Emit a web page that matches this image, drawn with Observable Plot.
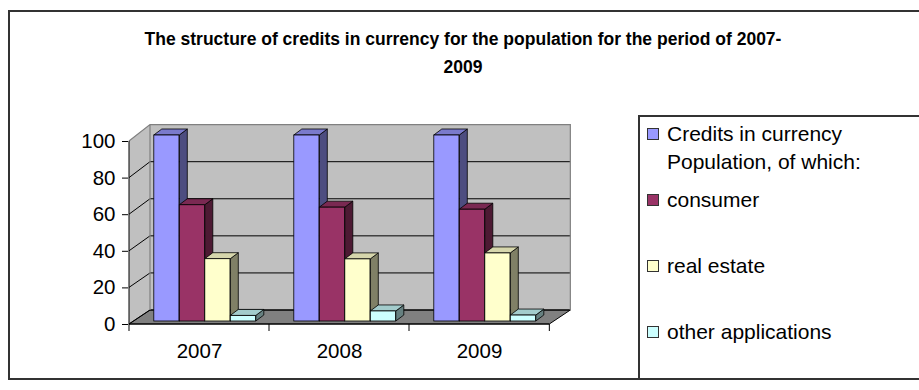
<!DOCTYPE html>
<html>
<head>
<meta charset="utf-8">
<script src="https://cdn.jsdelivr.net/npm/d3@7"></script>
<script src="https://cdn.jsdelivr.net/npm/@observablehq/plot@0.6"></script>
<style>
  html, body { margin: 0; padding: 0; background: #fff; }
  #wrap { position: relative; width: 919px; height: 390px; overflow: hidden; font-family: 'Liberation Sans', Arial, sans-serif; color: #000; }
  #frame { position: absolute; left: 8px; top: 10px; width: 940px; height: 370px; box-sizing: border-box; border: 2px solid #333; }
  #title { position: absolute; left: 8px; width: 910px; top: 25px; text-align: center; font-weight: bold; font-size: 17.5px; line-height: 28px; }
  #legend { position: absolute; left: 638px; top: 115px; width: 320px; height: 265px; box-sizing: border-box; border: 2px solid #333; }
  .lg-item { position: absolute; left: 667px; font-size: 21px; line-height: 28px; white-space: nowrap; }
  .lg-sw { position: absolute; left: 647px; width: 12px; height: 12px; box-sizing: border-box; border: 1px solid #333; }
  #chart { position: absolute; left: 0; top: 0; }
</style>
</head>
<body>
<div id="wrap">
  <div id="frame"></div>
  <div id="chart"></div>
  <div id="title">The structure of credits in currency for the population for the period of 2007-<br>2009</div>
  <div id="legend"></div>
</div>
<script>
// ---- data ----
const years = ["2007", "2008", "2009"];
const seriesNames = ["Credits in currency Population, of which:", "consumer", "real estate", "other applications"];
const seriesLegendLines = [["Credits in currency", "Population, of which:"], ["consumer"], ["real estate"], ["other applications"]];
const totalCredits = [100, 100, 100];
const consumer = [62.5, 61.2, 60.1];
const realEstate = [33.5, 33.4, 36.6];
const otherApps = [3.0, 5.4, 3.2];
const yTicks = [0, 20, 40, 60, 80, 100];

// ---- styles ----
const frontColors = ["#9999FF", "#993366", "#FFFFCC", "#CCFFFF"];
const topColors = ["#7A7ACC", "#7A2952", "#D6D6AC", "#A3CCCC"];
const sideColors = ["#4D4D80", "#4D1A33", "#808066", "#668080"];
const WALL = "#C0C0C0", FLOOR = "#808080", EDGE = "#808080";

const W = 919, H = 390, mL = 128, mR = 370, mT = 141, mB = 66;
const DX = 21, DY = -14, K = 0.013;        // wall depth
const BY = -3, KB = 0.0164;                // bar front plane
const BDX = 8, BDY = -6;                   // bar depth
const G0 = 24.8, BW = 25.5;                // bar placement within band
const bandW = (W - mL - mR) / years.length;

const seriesValues = [totalCredits, consumer, realEstate, otherApps];
const rows = [];
years.forEach((yr, j) => seriesValues.forEach((vals, s) => rows.push({year: yr, s, value: vals[j]})));

function wallsMark(index, scales) {
  const {x, y} = scales;
  const xa = x(years[0]), xb = x(years[years.length - 1]) + bandW;
  const y0 = y(0), vTop = yTicks[yTicks.length - 1];
  const yb = v => y(v) + DY - (y0 - y(v)) * K;
  const g = d3.create("svg:g");
  g.append("path").attr("d", `M${xa + DX},${yb(0)}L${xa + DX},${yb(vTop)}L${xb + DX},${yb(vTop)}L${xb + DX},${yb(0)}Z`).attr("fill", WALL);
  g.append("path").attr("d", `M${xa},${y0}L${xa},${y(vTop)}L${xa + DX},${yb(vTop)}L${xa + DX},${yb(0)}Z`).attr("fill", WALL);
  g.append("path").attr("d", `M${xa},${y0}L${xb},${y0}L${xb + DX},${yb(0)}L${xa + DX},${yb(0)}Z`).attr("fill", FLOOR).attr("stroke", "#000").attr("stroke-width", 1);
  yTicks.filter(t => t < vTop).forEach(t => {
    g.append("line").attr("x1", xa + DX).attr("x2", xb + DX).attr("y1", yb(t)).attr("y2", yb(t)).attr("stroke", "#000");
    g.append("line").attr("x1", xa).attr("x2", xa + DX).attr("y1", y(t)).attr("y2", yb(t)).attr("stroke", "#000");
  });
  g.append("path").attr("d", `M${xa},${y(vTop)}L${xa + DX},${yb(vTop)}L${xb + DX},${yb(vTop)}L${xb + DX},${yb(0)}M${xa + DX},${yb(vTop)}L${xa + DX},${yb(0)}`)
    .attr("fill", "none").attr("stroke", EDGE).attr("stroke-width", 1.2);
  g.append("line").attr("x1", xa).attr("x2", xa).attr("y1", y(vTop)).attr("y2", y0).attr("stroke", "#000");
  g.append("line").attr("x1", xa).attr("x2", xb).attr("y1", y0).attr("y2", y0).attr("stroke", "#000");
  years.forEach(yr => {
    const bx = x(yr);
    g.append("line").attr("x1", bx).attr("x2", bx).attr("y1", y0).attr("y2", y0 + 7).attr("stroke", "#000");
  });
  g.append("line").attr("x1", xb).attr("x2", xb).attr("y1", y0).attr("y2", y0 + 7).attr("stroke", "#000");
  return g.node();
}

function barFacesMark(index, scales) {
  const {x, y} = scales;
  const y0 = y(0);
  const yBar = v => y0 + BY - (y0 - y(v)) * (1 + KB);
  const g = d3.create("svg:g").attr("stroke", "#000").attr("stroke-width", 0.8).attr("stroke-linejoin", "round");
  for (const d of rows) {
    const x0 = x(d.year) + G0 + d.s * BW, x1 = x0 + BW;
    const yt = yBar(d.value), yB = yBar(0);
    g.append("path").attr("fill", sideColors[d.s])
      .attr("d", `M${x1},${yB}L${x1},${yt}L${x1 + BDX},${yt + BDY}L${x1 + BDX},${yB + BDY}Z`);
    g.append("path").attr("fill", topColors[d.s])
      .attr("d", `M${x0},${yt}L${x1},${yt}L${x1 + BDX},${yt + BDY}L${x0 + BDX},${yt + BDY}Z`);
  }
  return g.node();
}

const fronts = seriesNames.map((name, s) => Plot.barY(rows.filter(d => d.s === s), {
  x: "year", y: "value", fill: frontColors[s], stroke: "#000", strokeWidth: 0.8,
  insetLeft: G0 + s * BW, insetRight: bandW - G0 - (s + 1) * BW
}));

const chart = Plot.plot({
  width: W, height: H,
  marginLeft: mL, marginRight: mR, marginTop: mT, marginBottom: mB,
  style: {fontFamily: "'Liberation Sans', Arial, sans-serif", fontSize: "20.5px", color: "#000", background: "transparent", overflow: "visible"},
  x: {type: "band", domain: years, padding: 0, tickSize: 0, tickPadding: 19, label: null},
  y: {domain: [0, 100], ticks: yTicks, tickSize: 6, tickPadding: 7, label: null},
  marks: [wallsMark, barFacesMark, ...fronts]
});

{
  const y0 = H - mB;
  let groups = Array.from(chart.querySelectorAll('g[aria-label="bar"]'));
  if (!groups.length) groups = Array.from(new Set(Array.from(chart.querySelectorAll("rect")).map(r => r.parentNode)));
  groups.forEach(gEl => gEl.setAttribute("transform", `translate(0,${y0 + BY}) scale(1,${1 + KB}) translate(0,${-y0})`));
}

document.getElementById("chart").appendChild(chart);

const wrap = document.getElementById("wrap");
const itemTops = [120, 186, 252, 318];
seriesLegendLines.forEach((lines, s) => {
  const sw = document.createElement("div");
  sw.className = "lg-sw";
  sw.style.top = (itemTops[s] + 8) + "px";
  sw.style.background = frontColors[s];
  wrap.appendChild(sw);
  const t = document.createElement("div");
  t.className = "lg-item";
  t.style.top = itemTops[s] + "px";
  t.innerHTML = lines.join("<br>");
  wrap.appendChild(t);
});
</script>
</body>
</html>
